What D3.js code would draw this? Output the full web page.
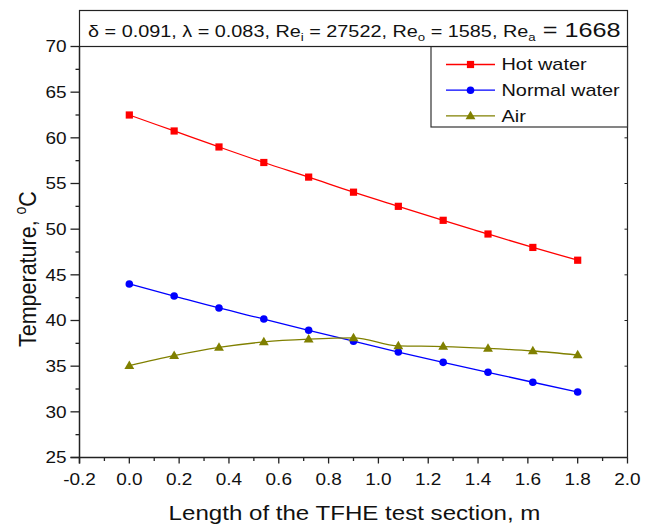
<!DOCTYPE html>
<html>
<head>
<meta charset="utf-8">
<script src="https://cdn.jsdelivr.net/npm/d3@7"></script>
<style>
  body { margin: 0; background: #fff; }
  svg { display: block; font-family: "Liberation Sans", Arial, sans-serif; }
</style>
</head>
<body>
<svg id="chart" width="651" height="526"></svg>
<script>
// data
const lengths = [0, 0.18, 0.36, 0.54, 0.72, 0.9, 1.08, 1.26, 1.44, 1.62, 1.8];
const hotWater = [62.5, 60.75, 59.0, 57.3, 55.7, 54.05, 52.5, 50.97, 49.47, 48.0, 46.6];
const normalWater = [44.0, 42.68, 41.37, 40.16, 38.93, 37.73, 36.55, 35.42, 34.33, 33.24, 32.17];
const air = [35.05, 36.15, 37.05, 37.65, 37.95, 38.1, 37.22, 37.15, 36.95, 36.66, 36.22];
const xTicks = [-0.2, 0.0, 0.2, 0.4, 0.6, 0.8, 1.0, 1.2, 1.4, 1.6, 1.8, 2.0];
const yTicks = [25, 30, 35, 40, 45, 50, 55, 60, 65, 70];

const series = [
  { name: 'Hot water', values: hotWater, color: '#ff0000', marker: 'square' },
  { name: 'Normal water', values: normalWater, color: '#0000ff', marker: 'circle' },
  { name: 'Air', values: air, color: '#808000', marker: 'triangle' },
];

const svg = d3.select('#chart');
const plotL = 79.5, plotR = 627.5, plotT = 46.5, plotB = 457.5;
// the reference text is a bit wider than Arial at its height
const SX = 1.15;

const x = d3.scaleLinear().domain([-0.2, 2.0]).range([plotL, plotR]);
const y = d3.scaleLinear().domain([25, 70]).range([plotB, plotT]);

function stretch(sel, ax, ay, sx) {
  sel.attr('transform', `translate(${ax},${ay}) scale(${sx},1) translate(${-ax},${-ay})`);
}

// stretch a text so that its width becomes target
function fitWidth(sel, ax, ay, target) {
  const w = sel.node().getBBox().width;
  stretch(sel, ax, ay, target / w);
}

// minor ticks
const xMinor = d3.range(-0.1, 2.0, 0.2);
const yMinor = d3.range(27.5, 70, 5);

const axes = svg.append('g').attr('stroke', '#222').attr('fill', 'none');

// bottom axis ticks
axes.selectAll('.xmaj').data(xTicks).join('line')
  .attr('x1', (d) => x(d)).attr('x2', (d) => x(d))
  .attr('y1', plotB).attr('y2', plotB + 6).attr('stroke-width', 1.3);
axes.selectAll('.xmin').data(xMinor).join('line')
  .attr('x1', (d) => x(d)).attr('x2', (d) => x(d))
  .attr('y1', plotB).attr('y2', plotB + 3.5).attr('stroke-width', 1.3);

// left axis ticks
axes.selectAll('.ymaj').data(yTicks).join('line')
  .attr('x1', plotL - 9).attr('x2', plotL)
  .attr('y1', (d) => y(d)).attr('y2', (d) => y(d)).attr('stroke-width', 1.3);
axes.selectAll('.ymin').data(yMinor).join('line')
  .attr('x1', plotL - 4).attr('x2', plotL)
  .attr('y1', (d) => y(d)).attr('y2', (d) => y(d)).attr('stroke-width', 1.3);

// right axis inward ticks
axes.selectAll('.yr').data(yTicks).join('line')
  .attr('x1', plotR - 3).attr('x2', plotR)
  .attr('y1', (d) => y(d)).attr('y2', (d) => y(d)).attr('stroke-width', 1);

// frame
axes.append('line').attr('x1', plotR).attr('x2', plotR).attr('y1', plotT).attr('y2', plotB).attr('stroke-width', 1.2);
axes.append('line').attr('x1', plotL).attr('x2', plotR).attr('y1', plotT).attr('y2', plotT).attr('stroke-width', 1.2);
axes.append('line').attr('x1', plotL).attr('x2', plotL).attr('y1', plotT).attr('y2', plotB + 6).attr('stroke-width', 1.5);
axes.append('line').attr('x1', plotL - 9).attr('x2', plotR).attr('y1', plotB).attr('y2', plotB).attr('stroke-width', 1.5);

// tick labels
svg.append('g').selectAll('text').data(xTicks).join('text')
  .attr('x', (d) => x(d)).attr('y', plotB + 28)
  .attr('text-anchor', 'middle').attr('font-size', 16.5).attr('fill', '#111')
  .text((d) => d3.format('.1f')(d).replace('−', '-'))
  .each(function (d) { stretch(d3.select(this), x(d), 0, SX); });
svg.append('g').selectAll('text').data(yTicks).join('text')
  .attr('x', 66.5).attr('y', (d) => y(d) + 6)
  .attr('text-anchor', 'end').attr('font-size', 16.5).attr('fill', '#111')
  .text((d) => d)
  .each(function () { stretch(d3.select(this), 66.5, 0, SX); });

// axis titles
const xTitle = svg.append('text')
  .attr('x', 354.5).attr('y', 520)
  .attr('text-anchor', 'middle').attr('font-size', 20.5).attr('fill', '#111')
  .text('Length of the TFHE test section, m');
fitWidth(xTitle, 354.5, 0, 372);

// vertical title: runs from y=347 up to y=188
const yTitle = svg.append('text')
  .attr('transform', `translate(36,347) scale(${SX},1) rotate(-90)`)
  .attr('text-anchor', 'start').attr('font-size', 21.5).attr('fill', '#111');
yTitle.append('tspan').text('Temperature, ');
yTitle.append('tspan').attr('font-size', 14).attr('dy', -9).text('o');
yTitle.append('tspan').attr('dy', 9).text('C');

// lines and markers
const line = d3.line()
  .x((d, i) => x(lengths[i]))
  .y((d) => y(d))
  .curve(d3.curveMonotoneX);

function drawMarker(g, type, color) {
  if (type === 'square') {
    g.append('rect').attr('x', -3.6).attr('y', -3.6).attr('width', 7.2).attr('height', 7.2).attr('fill', color);
  } else if (type === 'circle') {
    g.append('circle').attr('r', 3.8).attr('fill', color);
  } else {
    g.append('path').attr('d', d3.symbol(d3.symbolTriangle, 42)()).attr('transform', 'translate(0,0.5)').attr('fill', color);
  }
}

for (const s of series) {
  svg.append('path')
    .attr('d', line(s.values))
    .attr('fill', 'none').attr('stroke', s.color).attr('stroke-width', 1.3);
  svg.append('g').selectAll('g').data(s.values).join('g')
    .attr('transform', (d, i) => `translate(${x(lengths[i])},${y(d)})`)
    .each(function () { drawMarker(d3.select(this), s.marker, s.color); });
}

// legend
const legend = svg.append('g');
legend.append('rect')
  .attr('x', 431).attr('y', plotT).attr('width', plotR - 431).attr('height', 127 - plotT)
  .attr('fill', '#fff').attr('stroke', '#333').attr('stroke-width', 1.2);
series.forEach((s, i) => {
  const ly = 64.5 + i * 25.7;
  const item = legend.append('g');
  item.append('line').attr('x1', 446).attr('x2', 495).attr('y1', ly).attr('y2', ly)
    .attr('stroke', s.color).attr('stroke-width', 1.3);
  drawMarker(item.append('g').attr('transform', `translate(470.5,${ly})`), s.marker, s.color);
  const t = item.append('text').attr('x', 501.5).attr('y', ly + 6)
    .attr('font-size', 17).attr('fill', '#111').text(s.name);
  stretch(t, 501.5, 0, 1.17);
});

// title box
svg.append('rect')
  .attr('x', plotL).attr('y', 10.5).attr('width', plotR - plotL).attr('height', plotT - 10.5)
  .attr('fill', '#fff').attr('stroke', '#222').attr('stroke-width', 1.2);
const title = svg.append('text').attr('x', 88).attr('y', 37).attr('font-size', 16.5).attr('fill', '#111');
title.append('tspan').text('δ = 0.091, λ = 0.083, Re');
title.append('tspan').attr('font-size', 11).attr('dy', 4).text('i');
title.append('tspan').attr('dy', -4).text(' = 27522, Re');
title.append('tspan').attr('font-size', 11).attr('dy', 4).text('o');
title.append('tspan').attr('dy', -4).text(' = 1585, Re');
title.append('tspan').attr('font-size', 11).attr('dy', 4).text('a');
title.append('tspan').attr('dy', -4).attr('font-size', 21).text(' = 1668');
fitWidth(title, 88, 0, 533);
</script>
</body>
</html>
